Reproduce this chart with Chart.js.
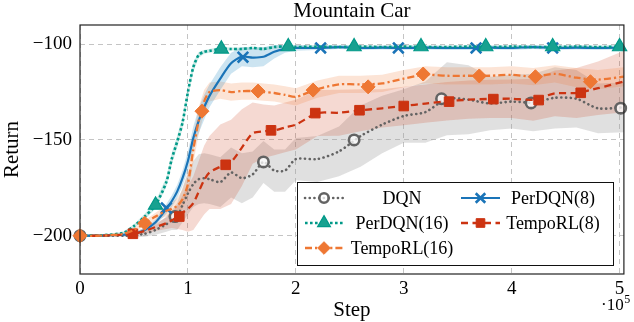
<!DOCTYPE html>
<html>
<head>
<meta charset="utf-8">
<script src="https://cdn.jsdelivr.net/npm/chart.js@4"></script>
<style>
  body { margin: 0; background: #fff; }
  #chart { display: block; }
</style>
</head>
<body>
<canvas id="chart" width="634" height="322"></canvas>
<script>
// x positions in units of 1e5 steps
const steps = [0, 0.2, 0.4, 0.5, 0.6, 0.7, 0.8, 0.85, 0.9, 0.95, 1.0, 1.05, 1.1, 1.15, 1.2, 1.3, 1.4, 1.5, 1.6, 1.7, 1.8, 1.9, 2.0,
    2.2, 2.4, 2.6, 2.8, 3.0, 3.2, 3.4, 3.6, 3.8, 4.0, 4.2, 4.4, 4.6, 4.8, 5.04];
const xTicks = [0, 1, 2, 3, 4, 5];
const yTicks = [-200, -150, -100];

const dqnMean = [-200, -200, -200, -199.8, -199, -197, -194, -192, -190, -184, -178, -173, -170.5, -170, -170.5, -172, -167, -170, -168, -161.5, -166, -166, -160,
    -160, -156, -148, -142, -137.5, -135.5, -128.5, -129, -131, -130, -130.5, -128, -128.5, -133.5, -133];
const dqnSpread = [0.5, 0.5, 0.5, 1, 1.5, 2.5, 4, 5, 7, 9, 11, 12, 13, 13, 13, 13, 13, 13, 12, 11, 11, 11, 11,
    12, 13, 16, 15, 14, 16, 19, 18, 14, 14, 15, 16, 15, 13, 13];

const per8Mean = [-200, -200, -199.5, -199, -197, -193, -186, -182, -177, -170, -161, -149, -140, -133, -127, -118, -110, -106.5, -107, -106.6, -104, -102.5, -102,
    -102, -101.5, -102, -101.8, -102, -101.8, -102, -102, -101.8, -102, -101.5, -102, -101.8, -102, -101.8];
const per8Spread = [0.3, 0.3, 0.5, 0.8, 1, 1.5, 2.5, 3, 3.5, 4, 5, 6, 6.5, 6.5, 6, 6, 5.5, 5, 5, 5, 3.5, 2, 1.5,
    1, 1, 1, 1, 1, 1, 1, 1, 1, 1, 1, 1, 1, 1, 1];

const per16Mean = [-200, -199.8, -198.5, -195, -190, -184, -172, -160, -151, -141, -125, -112, -105.6, -104, -103.5, -102.5, -102.5, -102.5, -102, -102.5, -101.5, -101.2, -101.5,
    -101.3, -101.5, -101.3, -101.5, -101.3, -101.5, -101.5, -101.3, -101.5, -101.3, -101.5, -101.5, -101.3, -101.5, -101.3];
const per16Spread = [0.3, 0.3, 0.5, 1, 1.5, 2, 2.5, 3, 3, 3, 3, 2.5, 1.5, 1, 1, 1, 0.8, 0.8, 0.8, 0.8, 0.8, 0.8, 0.8,
    0.8, 0.8, 0.8, 0.8, 0.8, 0.8, 0.8, 0.8, 0.8, 0.8, 0.8, 0.8, 0.8, 0.8, 0.8];

const tempo8Mean = [-200, -200, -199.5, -199, -197.5, -195.5, -193.5, -192, -190.5, -188, -186, -183, -177, -171, -167, -164, -161.5, -154, -146.5, -145.5, -145, -143.5, -142,
    -136, -135.8, -134.5, -133.5, -132.3, -131, -129.8, -129, -128.6, -128.5, -129, -125.7, -125.5, -123, -119.5];
const tempo8Spread = [0.3, 0.3, 0.5, 1, 1.5, 2, 3, 4, 6, 9, 12, 14, 16, 18, 19, 22, 22, 20, 16, 14, 13, 13, 13,
    12, 12, 11, 10, 10, 10, 10, 10, 10, 10, 11, 12, 13, 14, 16];

const tempo16Mean = [-200, -200, -199, -197, -193.5, -190, -187, -186, -184.5, -181, -173, -155, -140, -130, -125, -124, -125, -124.5, -124.5, -125, -125.5, -126.5, -127.5,
    -123.5, -121, -121, -120.5, -118, -116, -116.5, -116.5, -116.5, -116, -117, -115.5, -117.5, -118.5, -117];
const tempo16Spread = [0.3, 0.3, 0.5, 1, 1.5, 2, 3, 3.5, 4, 5, 6, 7, 7, 6, 5, 4.5, 4.5, 4.5, 4.5, 4.5, 4.5, 4.5, 4.5,
    4.5, 4.5, 4.5, 4.5, 4.5, 4.5, 4.5, 4.5, 4.5, 4.5, 4.5, 4.5, 5, 5, 5];

// marker positions
const dqnMarkX = [0, 0.88, 1.70, 2.54, 3.35, 4.18, 5.01];
const dqnMarkY = [-200, -190, -161.5, -150, -128.5, -130.7, -133.4];
const per8MarkX = [0.80, 1.51, 2.23, 2.95, 3.67, 4.38];
const per8MarkY = [-185.5, -106.8, -102, -102, -102, -102];
const per16MarkX = [0.70, 1.31, 1.93, 2.54, 3.16, 3.76, 4.38, 5.0];
const per16MarkY = [-184, -102.5, -101.3, -101.3, -101.3, -101.3, -101.3, -101.3];
const tempo8MarkX = [0.49, 0.92, 1.35, 1.77, 2.18, 2.59, 3.0, 3.42, 3.83, 4.25, 4.64];
const tempo8MarkY = [-199, -190, -163, -145, -136, -134.5, -132.3, -130, -128.7, -129.2, -125.4];
const tempo16MarkX = [0, 0.60, 1.13, 1.65, 2.16, 2.67, 3.18, 3.70, 4.22, 4.73];
const tempo16MarkY = [-200, -193.5, -135, -124.5, -124, -122.3, -115.6, -116.6, -117, -119.6];

const SERIF = '"Liberation Serif", "Times New Roman", serif';

const series = [
    {label: 'DQN', mean: dqnMean, spread: dqnSpread, mx: dqnMarkX, my: dqnMarkY,
        color: '#636363', band: 'rgba(160,160,160,0.32)', dash: [0.1, 4.6], width: 2.6, cap: 'round',
        point: 'circle', radius: 5.2, fill: 'rgba(255,255,255,0.75)', pw: 2.6, line: 9, bandOrder: 24},
    {label: 'PerDQN(8)', mean: per8Mean, spread: per8Spread, mx: per8MarkX, my: per8MarkY,
        color: '#1a74b8', band: 'rgba(0,119,187,0.2)', dash: [], width: 2.2, cap: 'butt',
        point: 'crossRot', radius: 7.5, fill: '#1a74b8', pw: 2.6, line: 8, bandOrder: 21},
    {label: 'PerDQN(16)', mean: per16Mean, spread: per16Spread, mx: per16MarkX, my: per16MarkY,
        color: '#009988', band: 'rgba(0,153,136,0.2)', dash: [2.6, 2.4], width: 2.6, cap: 'butt',
        point: 'triangle', radius: 8.2, fill: '#17a190', pw: 1.2, line: 7, bandOrder: 20},
    {label: 'TempoRL(8)', mean: tempo8Mean, spread: tempo8Spread, mx: tempo8MarkX, my: tempo8MarkY,
        color: '#cc3311', band: 'rgba(204,51,17,0.19)', dash: [7, 4.5], width: 2.3, cap: 'butt',
        point: 'rect', radius: 6.8, fill: '#cc3311', pw: 1, line: 6, bandOrder: 23},
    {label: 'TempoRL(16)', mean: tempo16Mean, spread: tempo16Spread, mx: tempo16MarkX, my: tempo16MarkY,
        color: '#ee7733', band: 'rgba(238,119,51,0.2)', dash: [7, 3, 2.2, 3], width: 2.3, cap: 'butt',
        point: 'rectRot', radius: 7, fill: '#ee7733', pw: 1, line: 5, bandOrder: 22}
];

const datasets = [];
series.forEach((s) => {
    datasets.push({
        data: steps.map((x, i) => ({x: x, y: s.mean[i] - s.spread[i]})),
        borderWidth: 0, pointRadius: 0, fill: false, order: s.bandOrder
    });
    datasets.push({
        data: steps.map((x, i) => ({x: x, y: s.mean[i] + s.spread[i]})),
        borderWidth: 0, pointRadius: 0, fill: '-1', backgroundColor: s.band, order: s.bandOrder
    });
    datasets.push({
        label: s.label,
        data: steps.map((x, i) => ({x: x, y: s.mean[i]})),
        borderColor: s.color, borderWidth: s.width, borderDash: s.dash, borderCapStyle: s.cap,
        borderJoinStyle: 'round', pointRadius: 0, fill: false, tension: 0.25, order: s.line
    });
    datasets.push({
        data: s.mx.map((x, i) => ({x: x, y: s.my[i]})),
        showLine: false, pointStyle: s.point, pointRadius: s.radius, pointBorderWidth: s.pw,
        pointBorderColor: s.color, pointBackgroundColor: s.fill, clip: false, order: s.line - 0.5
    });
});

const framePlugin = {
    id: 'frame',
    afterDraw(chart) {
        const ctx = chart.ctx;
        const a = chart.chartArea;
        ctx.save();
        ctx.strokeStyle = '#222';
        ctx.lineWidth = 1.2;
        ctx.setLineDash([]);
        ctx.strokeRect(a.left, a.top, a.right - a.left, a.bottom - a.top);

        // legend box
        const bx = 297.5, by = 182.5, bw = 316, bh = 83;
        ctx.fillStyle = '#fff';
        ctx.fillRect(bx, by, bw, bh);
        ctx.lineWidth = 1;
        ctx.strokeStyle = '#111';
        ctx.strokeRect(bx, by, bw, bh);
        const cols = [{x0: 305, x1: 343, tx: 402}, {x0: 461, x1: 500, tx: 553}];
        const rows = [198, 223, 248];
        const place = [[0, 0], [0, 1], [1, 0], [1, 1], [2, 0]];
        ctx.font = '18px ' + SERIF;
        ctx.textAlign = 'center';
        ctx.textBaseline = 'middle';
        series.forEach((s, i) => {
            const c = cols[place[i][1]];
            const y = rows[place[i][0]];
            ctx.strokeStyle = s.color;
            ctx.lineWidth = s.width;
            ctx.lineCap = s.cap;
            ctx.setLineDash(s.dash);
            ctx.beginPath();
            ctx.moveTo(c.x0, y);
            ctx.lineTo(c.x1, y);
            ctx.stroke();
            ctx.setLineDash([]);
            ctx.lineCap = 'butt';
            ctx.fillStyle = s.fill;
            ctx.lineWidth = s.pw;
            Chart.helpers.drawPoint(ctx, {pointStyle: s.point, radius: s.radius * 0.9, borderWidth: s.pw, rotation: 0},
                (c.x0 + c.x1) / 2, y);
            ctx.fillStyle = '#000';
            ctx.fillText(s.label, c.tx, y + 1);
        });

        // axis multiplier
        ctx.fillStyle = '#000';
        ctx.textAlign = 'left';
        ctx.textBaseline = 'alphabetic';
        ctx.font = '17px ' + SERIF;
        ctx.fillText('\u00b710', 601, 310);
        const w = ctx.measureText('\u00b710').width;
        ctx.font = '12px ' + SERIF;
        ctx.fillText('5', 601 + w + 0.5, 303);
        ctx.restore();
    }
};

new Chart(document.getElementById('chart'), {
    type: 'line',
    data: {datasets: datasets},
    options: {
        responsive: false,
        animation: false,
        devicePixelRatio: 1,
        layout: {padding: {right: 5}},
        plugins: {
            legend: {display: false},
            tooltip: {enabled: false},
            title: {
                display: true, text: 'Mountain Car', color: '#000', fullSize: false,
                font: {family: SERIF, size: 21, weight: 'normal', lineHeight: 1.0},
                padding: {top: 1, bottom: 3}
            }
        },
        scales: {
            x: {
                type: 'linear', min: 0, max: 5.04,
                afterBuildTicks: (scale) => { scale.ticks = xTicks.map((v) => ({value: v})); },
                afterFit: (scale) => { scale.height = 48; },
                grid: {color: '#c4c4c4', drawTicks: false, lineWidth: 1},
                border: {display: false, dash: [5, 4]},
                ticks: {color: '#000', padding: 4, font: {family: SERIF, size: 19}, callback: (v) => String(v), maxRotation: 0},
                title: {display: true, text: 'Step', color: '#000', font: {family: SERIF, size: 21}, padding: {top: 0, bottom: -1}}
            },
            y: {
                min: -220, max: -90,
                afterBuildTicks: (scale) => { scale.ticks = yTicks.map((v) => ({value: v})); },
                afterFit: (scale) => { scale.width = 80; },
                grid: {color: '#c4c4c4', drawTicks: false, lineWidth: 1},
                border: {display: false, dash: [5, 4]},
                ticks: {color: '#000', padding: 8, font: {family: SERIF, size: 19}, callback: (v) => '\u2212' + Math.abs(v)},
                title: {display: true, text: 'Return', color: '#000', font: {family: SERIF, size: 21}, padding: {top: 0, bottom: 0}}
            }
        }
    },
    plugins: [framePlugin]
});
</script>
</body>
</html>
